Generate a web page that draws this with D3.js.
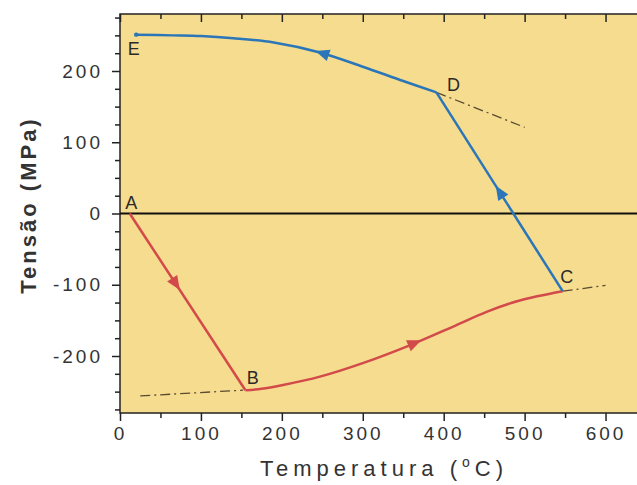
<!DOCTYPE html>
<html>
<head>
<meta charset="utf-8">
<script src="https://cdn.jsdelivr.net/npm/d3@7"></script>
<style>
  body { margin: 0; background: #fff; }
  text { font-family: "Liberation Sans", Arial, sans-serif; fill: #2a2a2a; }
</style>
</head>
<body>
<div id="chart"></div>
<script>
// dados (temperatura em C, tensao em MPa)
var redAB = [[12, 0], [155, -248]];
var redBC = [[155, -248], [175, -246], [200, -241], [247, -229], [300, -210], [358, -185],
             [411, -159], [453, -138], [494, -122], [547, -109]];
var blueCD = [[547, -109], [391, 170]];
var blueDE = [[391, 170], [350, 186], [300, 206], [247, 226], [190, 240], [140, 246],
              [100, 249], [65, 250], [20, 251]];
var dashB = [[25, -256], [152, -248]];
var dashC = [[547, -109], [600, -101]];
var dashD = [[391, 170], [500, 121]];
var pointLabels = [
  { name: "A", t: 14, s: 7 },
  { name: "B", t: 164, s: -239 },
  { name: "C", t: 552, s: -97 },
  { name: "D", t: 412, s: 172 },
  { name: "E", t: 17, s: 222 }
];
// setas: segmento onde fica e fracao ao longo dele
var arrows = [
  { seg: redAB, i: 0, f: 0.4, color: "#d24a4a" },
  { seg: redBC, i: 5, f: 0.12, color: "#d24a4a" },
  { seg: blueCD, i: 0, f: 0.5, color: "#2a76b8" },
  { seg: blueDE, i: 2, f: 0.95, color: "#2a76b8" }
];
var xTicks = [0, 100, 200, 300, 400, 500, 600];
var yTicks = [-200, -100, 0, 100, 200];

var width = 637, height = 485;
var pL = 120, pT = 14, pR = 646, pB = 413;

var svg = d3.select("#chart").append("svg")
  .attr("width", width)
  .attr("height", height);

var x = d3.scaleLinear().domain([0, 650]).range([pL, pR]);
var y = d3.scaleLinear().domain([-280, 280]).range([pB, pT]);

svg.append("rect")
  .attr("x", pL).attr("y", pT)
  .attr("width", pR - pL).attr("height", pB - pT)
  .attr("fill", "#f6dc8e")
  .attr("stroke", "#222").attr("stroke-width", 1.5);

// eixos: principais e secundarios
function addAxis(axis, ticks, len, tr, minor) {
  var g = svg.append("g").attr("transform", tr)
    .call(axis.tickValues(ticks).tickSize(len)
      .tickFormat(minor ? "" : function(d) { return String(d); }));
  g.select(".domain").remove();
  g.selectAll("line").attr("stroke", "#222").attr("stroke-width", 1.5);
  return g;
}
var xMinor = d3.range(50, 650, 100);
var yMinor = d3.range(-275, 280, 25).filter(function(v) { return v % 100 !== 0; });

var gx = addAxis(d3.axisBottom(x), xTicks, 8, "translate(0," + pB + ")", false);
gx.selectAll("text").attr("y", 14).attr("dy", "0.71em")
  .style("font-size", "19px").style("letter-spacing", "3px").style("fill", "#333");
addAxis(d3.axisBottom(x), xMinor, 5, "translate(0," + pB + ")", true);
addAxis(d3.axisTop(x), xTicks, -8, "translate(0," + pT + ")", true);
addAxis(d3.axisTop(x), xMinor, -5, "translate(0," + pT + ")", true);

var gy = addAxis(d3.axisLeft(y), yTicks, 8, "translate(" + pL + ",0)", false);
gy.selectAll("text").attr("x", -17)
  .style("font-size", "19px").style("letter-spacing", "3px").style("fill", "#333");
addAxis(d3.axisLeft(y), yMinor, 5, "translate(" + pL + ",0)", true);
addAxis(d3.axisRight(y), yTicks, -8, "translate(" + pR + ",0)", true);
addAxis(d3.axisRight(y), yMinor, -5, "translate(" + pR + ",0)", true);

// linha do zero
svg.append("line")
  .attr("x1", pL).attr("x2", pR)
  .attr("y1", y(0)).attr("y2", y(0))
  .attr("stroke", "#111").attr("stroke-width", 2);

var line = d3.line().x(function(d) { return x(d[0]); }).y(function(d) { return y(d[1]); });
var curve = d3.line().curve(d3.curveCatmullRom)
  .x(function(d) { return x(d[0]); }).y(function(d) { return y(d[1]); });

[dashB, dashC, dashD].forEach(function(d) {
  svg.append("path").attr("d", line(d))
    .attr("fill", "none").attr("stroke", "#5a4a30").attr("stroke-width", 1.3)
    .attr("stroke-dasharray", "10,4,2,4");
});

svg.append("path").attr("d", line(redAB)).attr("fill", "none").attr("stroke", "#d24a4a").attr("stroke-width", 2.5);
svg.append("path").attr("d", curve(redBC)).attr("fill", "none").attr("stroke", "#d24a4a").attr("stroke-width", 2.5);
svg.append("path").attr("d", line(blueCD)).attr("fill", "none").attr("stroke", "#2a76b8").attr("stroke-width", 2.5);
svg.append("path").attr("d", curve(blueDE)).attr("fill", "none").attr("stroke", "#2a76b8").attr("stroke-width", 2.5);

svg.append("circle")
  .attr("cx", x(blueDE[blueDE.length - 1][0])).attr("cy", y(blueDE[blueDE.length - 1][1]))
  .attr("r", 2.2).attr("fill", "#2a76b8");

arrows.forEach(function(a) {
  var p0 = a.seg[a.i], p1 = a.seg[a.i + 1];
  var x0 = x(p0[0]), y0 = y(p0[1]), x1 = x(p1[0]), y1 = y(p1[1]);
  var cx = x0 + (x1 - x0) * a.f, cy = y0 + (y1 - y0) * a.f;
  var ang = Math.atan2(y1 - y0, x1 - x0) * 180 / Math.PI;
  svg.append("path")
    .attr("d", "M7,0 L-7,-6 L-7,6 Z")
    .attr("transform", "translate(" + cx + "," + cy + ") rotate(" + ang + ")")
    .attr("fill", a.color);
});

svg.selectAll(".lbl").data(pointLabels).enter().append("text")
  .attr("class", "lbl")
  .attr("x", function(d) { return x(d.t); })
  .attr("y", function(d) { return y(d.s); })
  .attr("text-anchor", "middle")
  .style("font-size", "18px")
  .text(function(d) { return d.name; });

// titulos dos eixos
var xt = svg.append("text")
  .attr("x", 384).attr("y", 476)
  .attr("text-anchor", "middle")
  .style("font-size", "22px").style("letter-spacing", "5px").style("fill", "#333");
xt.append("tspan").text("Temperatura (");
xt.append("tspan").attr("dy", -9).style("font-size", "14px").text("o");
xt.append("tspan").attr("dy", 9).text("C)");

svg.append("text")
  .attr("transform", "translate(36,205) rotate(-90)")
  .attr("text-anchor", "middle")
  .style("font-size", "22px").style("font-weight", "bold").style("letter-spacing", "3px")
  .style("fill", "#333")
  .text("Tensão (MPa)");
</script>
</body>
</html>
